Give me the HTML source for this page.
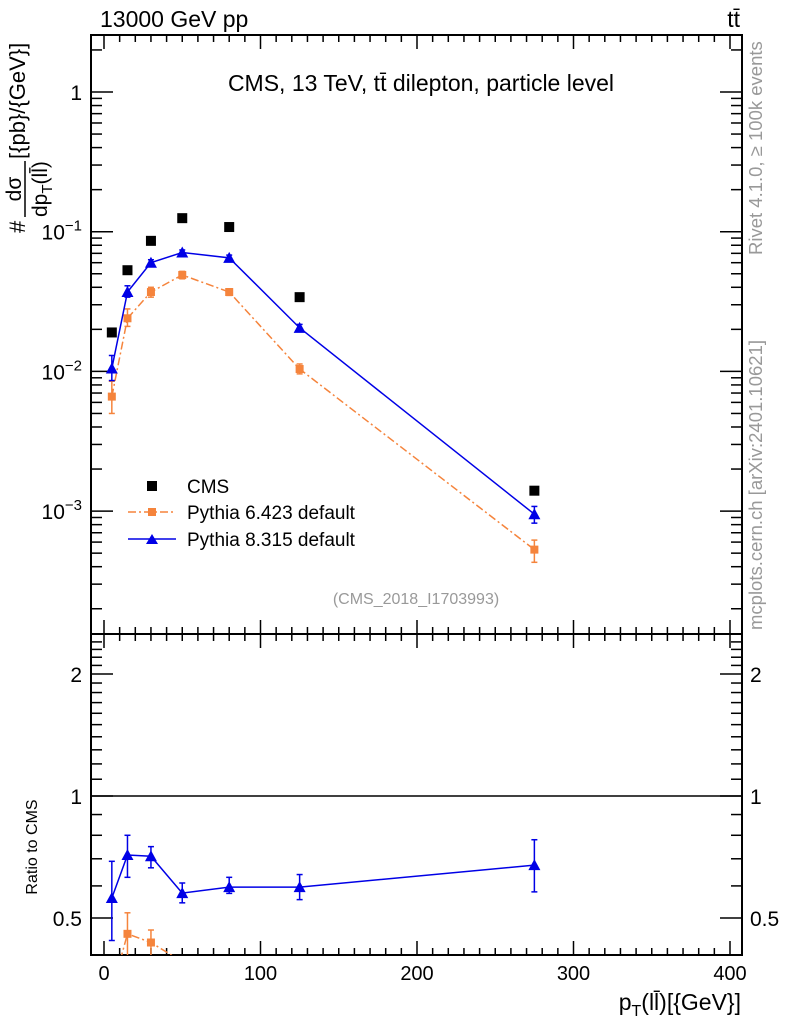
<!DOCTYPE html>
<html><head><meta charset="utf-8"><style>
body{margin:0;background:#fff}
svg{display:block;font-family:"Liberation Sans",sans-serif}
</style></head><body>
<svg id="c" width="786" height="1024" viewBox="0 0 786 1024">
<text x="100" y="27" font-size="23">13000 GeV pp</text>
<text x="740" y="27" font-size="23" text-anchor="end">tt̄</text>
<text x="421" y="91" font-size="23" text-anchor="middle">CMS, 13 TeV, tt̄ dilepton, particle level</text>
<text x="416" y="604" font-size="16" fill="#999" text-anchor="middle">(CMS_2018_I1703993)</text>
<text transform="translate(762,255) rotate(-90)" font-size="18.5" fill="#999">Rivet 4.1.0, ≥ 100k events</text>
<text transform="translate(762,630) rotate(-90)" font-size="18.5" fill="#999">mcplots.cern.ch [arXiv:2401.10621]</text>
<g transform="translate(25,233) rotate(-90)">
<text x="0" y="0" font-size="22">#</text>
<text x="44" y="-4" font-size="21" text-anchor="middle">dσ</text>
<line x1="16" y1="0" x2="72" y2="0" stroke="#000" stroke-width="1.5"/>
<text x="16" y="22" font-size="21">dp<tspan font-size="15" dy="5">T</tspan><tspan dy="-5">(ll̄)</tspan></text>
<text x="74" y="0" font-size="22">[{pb}/{GeV}]</text>
</g>
<text transform="translate(37,847) rotate(-90)" font-size="16" text-anchor="middle">Ratio to CMS</text>
<text x="741" y="1010" font-size="23" text-anchor="end">p<tspan font-size="16" dy="6">T</tspan><tspan dy="-6">(ll̄)[{GeV}]</tspan></text>
<g id="axes"></g>
<g id="marks"></g>
<g>
<rect x="147" y="481" width="10" height="10" fill="#000"/>
<text x="187" y="493" font-size="19">CMS</text>
<line x1="128" y1="512" x2="176" y2="512" stroke="#f5843c" stroke-width="1.5" stroke-dasharray="8,3,2,3"/>
<rect x="148" y="508" width="8" height="8" fill="#f5843c"/>
<text x="187" y="519" font-size="19">Pythia 6.423 default</text>
<line x1="128" y1="539" x2="176" y2="539" stroke="#0000e6" stroke-width="1.5"/>
<path d="M146,544 L152,534 L158,544Z" fill="#0000e6"/>
<text x="187" y="546" font-size="19">Pythia 8.315 default</text>
</g>
</svg>
<script>
const xs=[5,15,30,50,80,125,275];
const cms=[0.019,0.053,0.086,0.125,0.108,0.034,0.0014];
const py6=[0.0066,0.024,0.037,0.049,0.037,0.0104,0.00053];
const py6lo=[0.005,0.021,0.034,0.046,0.035,0.0096,0.00043];
const py6hi=[0.0085,0.028,0.040,0.052,0.039,0.0113,0.00062];
const py8=[0.0105,0.037,0.060,0.071,0.065,0.0205,0.00095];
const py8lo=[0.0086,0.034,0.057,0.068,0.062,0.0195,0.00082];
const py8hi=[0.013,0.041,0.063,0.074,0.068,0.0217,0.00108];
const r8=[0.56,0.715,0.71,0.576,0.596,0.596,0.675];
const r8lo=[0.44,0.63,0.665,0.545,0.575,0.555,0.58];
const r8hi=[0.69,0.80,0.75,0.61,0.63,0.64,0.78];
const r6=[0.33,0.457,0.435,0.39,0.34,0.31,0.37];
const r6lo=[0.27,0.39,0.40,0.37,0.33,0.29,0.33];
const r6hi=[0.40,0.515,0.467,0.40,0.35,0.33,0.40];
const xTicks=[0,100,200,300,400];

const NS="http://www.w3.org/2000/svg";
const L=91,R=742,T=35,MB=634,RB=955;
const X=v=>104+1.565*v;
const Y=v=>92-139.7*Math.log10(v);
const YR=v=>796-122*Math.log2(v);
const axes=document.getElementById('axes'),marks=document.getElementById('marks');
function mk(p,tag,at){const e=document.createElementNS(NS,tag);for(const k in at)e.setAttribute(k,at[k]);p.appendChild(e);return e;}
function ln(p,x1,y1,x2,y2,s,w,d){const e=mk(p,'line',{x1,y1,x2,y2,stroke:s||'#000','stroke-width':w||1.5});if(d)e.setAttribute('stroke-dasharray',d);return e;}
let f1=mk(axes,'rect',{x:L,y:T,width:R-L,height:MB-T,fill:'none',stroke:'#000','stroke-width':2});


let f2=mk(axes,'rect',{x:L,y:MB,width:R-L,height:RB-MB,fill:'none',stroke:'#000','stroke-width':2});


for(let v=0;v<=400;v+=10){const x=X(v);const maj=v%100===0;const l=maj?14:7;
 for(const [yt,yb] of [[T,MB],[MB,RB]]){ln(axes,x,yt,x,yt+l);ln(axes,x,yb,x,yb-l);}}
xTicks.forEach(v=>{const t=mk(axes,'text',{x:X(v),y:980,'font-size':20,'text-anchor':'middle'});t.textContent=v;

});
for(let e=-4;e<=0;e++)for(let m=1;m<=9;m++){const v=m*Math.pow(10,e);const y=Y(v);if(y<T||y>MB)continue;const l=m===1?22:11;ln(axes,L,y,L+l,y);ln(axes,R,y,R-l,y);}
[[1,'1'],[0.1,'10','−1'],[0.01,'10','−2'],[0.001,'10','−3']].forEach(a=>{const t=mk(axes,'text',{x:82,y:Y(a[0])+8,'font-size':21,'text-anchor':'end'});


if(a[2]){t.innerHTML=a[1]+'<tspan font-size="15" dy="-9">'+a[2]+'</tspan>';}else t.textContent=a[1];});
[0.5,0.6,0.7,0.8,0.9,1,1.1,1.2,1.3,1.4,1.5,1.6,1.7,1.8,1.9,2,2.1,2.2,2.3,2.4].forEach(v=>{const y=YR(v);if(y<MB||y>RB)return;const maj=(v===0.5||v===1||v===2);const l=maj?22:11;ln(axes,L,y,L+l,y);ln(axes,R,y,R-l,y);});
[[0.5,'0.5'],[1,'1'],[2,'2']].forEach(a=>{for(const [x,anc] of [[82,'end'],[750,'start']]){const t=mk(axes,'text',{x,y:YR(a[0])+8,'font-size':21,'text-anchor':anc});t.textContent=a[1];

}});
ln(axes,L,YR(1),R,YR(1),'#000',1.5);
const cp=mk(marks,'clipPath',{id:'rc'});mk(cp,'rect',{x:L,y:MB,width:R-L,height:RB-MB});
const rg=mk(marks,'g',{'clip-path':'url(#rc)'});
function series(p,ys,lo,hi,fy,col,dash,shape,name){
 const pl=mk(p,'polyline',{points:xs.map((x,i)=>X(x)+','+fy(ys[i])).join(' '),fill:'none',stroke:col,'stroke-width':1.5});
 if(dash)pl.setAttribute('stroke-dasharray',dash);
 
 
 xs.forEach((x,i)=>{const cx=X(x),cy=fy(ys[i]);
  ln(p,cx,fy(lo[i]),cx,fy(hi[i]),col,1.5);ln(p,cx-3,fy(lo[i]),cx+3,fy(lo[i]),col,1.5);ln(p,cx-3,fy(hi[i]),cx+3,fy(hi[i]),col,1.5);
  let m;
  if(shape==='tri')m=mk(p,'path',{d:`M${cx-6},${cy+5} L${cx},${cy-6} L${cx+6},${cy+5}Z`,fill:col});
  else m=mk(p,'rect',{x:cx-4,y:cy-4,width:8,height:8,fill:col});
  
  });
}
series(marks,py6,py6lo,py6hi,Y,'#f5843c','8,3,2,3','sq','pythia6');
series(marks,py8,py8lo,py8hi,Y,'#0000e6',null,'tri','pythia8');
xs.forEach((x,i)=>{const m=mk(marks,'rect',{x:X(x)-5,y:Y(cms[i])-5,width:10,height:10,fill:'#000'});

});
series(rg,r6,r6lo,r6hi,YR,'#f5843c','8,3,2,3','sq','ratio-pythia6');
series(rg,r8,r8lo,r8hi,YR,'#0000e6',null,'tri','ratio-pythia8');
</script>
</body></html>
